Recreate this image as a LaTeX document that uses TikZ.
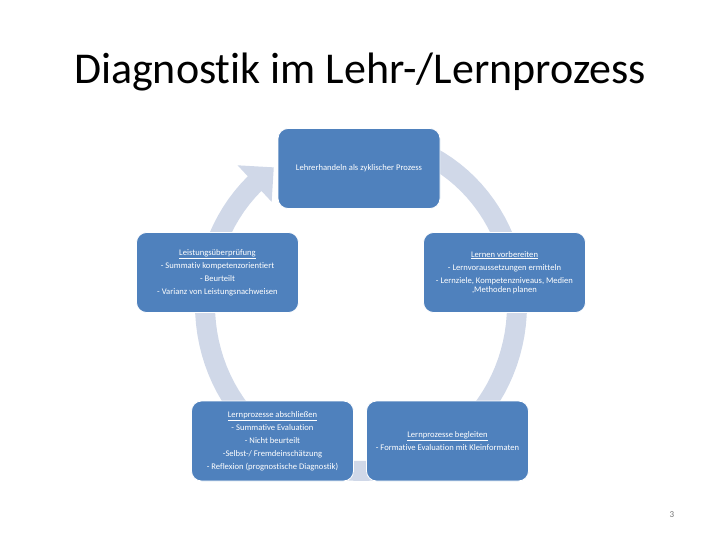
\documentclass[tikz,border=0pt]{standalone}
\usepackage{fontspec}
\setmainfont{Carlito}[Ligatures=NoCommon]
\definecolor{boxblue}{HTML}{4F81BD}
\definecolor{ringcol}{HTML}{D0D8E8}
\tikzset{
  stage/.style={draw=white, line width=0.8pt, fill=boxblue, rounded corners=10pt,
    minimum width=162pt, minimum height=80pt, inner sep=2pt, align=center,
    text=white, font=\fontsize{8.6}{13}\selectfont},
}
\begin{document}
\begin{tikzpicture}[x=1pt,y=-1pt]
\useasboundingbox (0,0) rectangle (720,540);
% title
\node[anchor=base, font=\fontsize{44}{52}\selectfont] (title) at (360,84) {Diagnostik im Lehr-/Lernprozess};
% ring arrow (slightly elliptical)
\def\cx{361}\def\cy{305}
\fill[ringcol]
  plot[domain=70:-227, samples=90] ({\cx+166*cos(\x)},{\cy-176*sin(\x)})
  -- ({\cx+181*cos(-227)},{\cy-191*sin(-227)})
  -- ({\cx+156*cos(-236)},{\cy-166*sin(-236)})
  -- ({\cx+131*cos(-227)},{\cy-141*sin(-227)})
  -- plot[domain=-227:70, samples=90] ({\cx+146*cos(\x)},{\cy-156*sin(\x)})
  -- cycle;
% stages
\node[stage] (top) at (359,168.5) {Lehrerhandeln als zyklischer Prozess};
\node[stage] (right) at (504.5,272.5) {\underline{Lernen vorbereiten}\\- Lernvoraussetzungen ermitteln\\- Lernziele, Kompetenzniveaus, Medien\\[-3.5pt],Methoden planen};
\node[stage] (bright) at (447.5,441) {\underline{Lernprozesse begleiten}\\- Formative Evaluation mit Kleinformaten};
\node[stage] (bleft) at (272.5,441) {\underline{Lernprozesse abschließen}\\- Summative Evaluation\\- Nicht beurteilt\\-Selbst-/ Fremdeinschätzung\\- Reflexion (prognostische Diagnostik)};
\node[stage] (left) at (217.5,272.5) {\underline{Leistungsüberprüfung}\\- Summativ kompetenzorientiert\\- Beurteilt\\- Varianz von Leistungsnachweisen};
% page number
\node[text=black!55, font=\fontsize{9}{10}\selectfont] (pnum) at (672,515) {3};
\end{tikzpicture}
\end{document}
